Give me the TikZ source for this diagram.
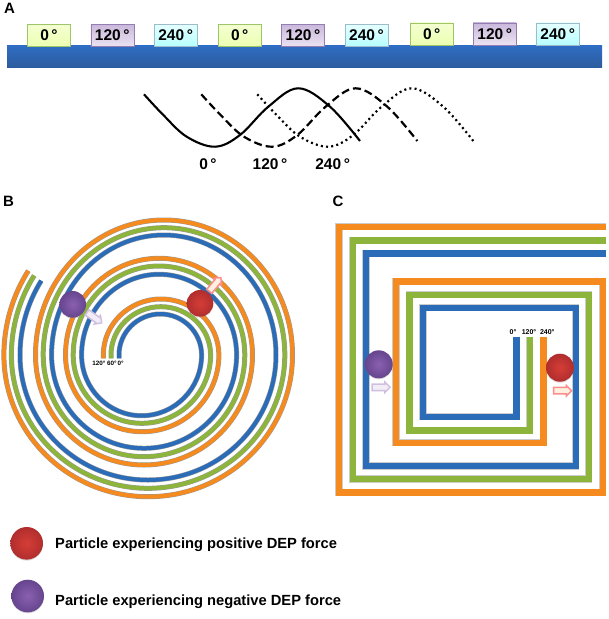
\documentclass[tikz,border=0pt]{standalone}
\usepackage{fontspec}
\setmainfont{Liberation Sans}
\usetikzlibrary{shapes.arrows,shadows}

\definecolor{trackorange}{HTML}{F58A1F}
\definecolor{trackgreen}{HTML}{8DB53C}
\definecolor{trackblue}{HTML}{2B6CB8}
\definecolor{stripblue}{HTML}{2F6DC4}
\definecolor{stripdark}{HTML}{2C5C9E}
\definecolor{redin}{HTML}{D63D36}
\definecolor{redout}{HTML}{B02E2E}
\definecolor{purplein}{HTML}{8A60B0}
\definecolor{purpleout}{HTML}{66458E}

\tikzset{
    greenbox/.style={draw=green!25!olive!60!white,top color=lime!18!white,bottom color=lime!30!white,fill=lime!25!white},
    purplebox/.style={draw=purpleout!70!white,top color=purplein!45!white,bottom color=purplein!18!white},
    cyanbox/.style={draw=cyan!35!gray!70!white,top color=cyan!10!white,bottom color=cyan!28!white},
    phasebox/.style={minimum width=43pt,minimum height=22pt,inner sep=0pt,font=\fontsize{15.5}{15.5}\bfseries\selectfont},
    wavea/.style={line width=2.1pt},
    waveb/.style={line width=2.2pt,dash pattern=on 8pt off 4pt},
    wavec/.style={line width=2.2pt,dash pattern=on 2pt off 3.2pt},
    spiral/.style={draw=gray!80,line width=.5pt,double distance=4pt,double=#1},
    strip/.style={line width=6.4pt,draw=#1,preaction={draw=gray!40,line width=7.4pt}},
    particlered/.style={circle,minimum size=26.6pt,inner sep=0pt,shading=radial,inner color=redin,outer color=redout,
        drop shadow={shadow xshift=0pt,shadow yshift=-1pt,opacity=.3}},
    particlepurple/.style={circle,minimum size=26.6pt,inner sep=0pt,shading=radial,inner color=purplein,outer color=purpleout,
        drop shadow={shadow xshift=0pt,shadow yshift=-1pt,opacity=.3}},
    forcered/.style={single arrow,minimum height=18pt,text height=5pt,text depth=0pt,single arrow head extend=2pt,inner sep=0pt,line width=1.5pt,draw=red!45!white,fill=orange!12!white},
    forcepurple/.style={single arrow,minimum height=18pt,text height=5pt,text depth=0pt,single arrow head extend=2pt,inner sep=0pt,line width=1.5pt,draw=purplein!40!white,fill=purplein!12!white},
    panel/.style={font=\fontsize{15}{15}\bfseries\selectfont},
    phase/.style={font=\fontsize{15.5}{15.5}\bfseries\selectfont},
    tiny/.style={inner sep=0pt,font=\fontsize{#1}{#1}\bfseries\selectfont},
    legend/.style={anchor=west,inner sep=0pt,font=\fontsize{14.7}{16}\bfseries\selectfont}
}

\begin{document}
\begin{tikzpicture}[x=1pt,y=-1pt]
    \useasboundingbox (0,0) rectangle (609,619);

    % Panel letters.
    \node[panel] (labelA) at (9.5,8.7) {A};
    \node[panel] (labelB) at (8.5,201) {B};
    \node[panel] (labelC) at (338,201) {C};

    % Electrode strip and phase boxes.
    \fill[top color=stripblue,bottom color=stripdark,drop shadow={shadow xshift=0pt,shadow yshift=-.8pt,opacity=.3}] (7,45.3) rectangle (602,67.3);
    \foreach \boxname/\x/\y/\sty/\ang in {boxa/49/35.2/greenbox/0,boxb/112.3/35.2/purplebox/120,boxc/175.7/35.2/cyanbox/240,
        boxd/239.7/35.2/greenbox/0,boxe/303/35.2/purplebox/120,boxf/366.5/35.2/cyanbox/240,
        boxg/431.7/33.8/greenbox/0,boxh/494.7/33.8/purplebox/120,boxi/557.8/33.8/cyanbox/240}
        \node[phasebox,\sty] (\boxname) at (\x,\y) {\ang\,°};

    % Three phase waves.
    \foreach \sty/\dx in {wavea/0,waveb/57.3,wavec/113.3}
        \draw[\sty,xshift=\dx pt] plot[smooth,tension=.6] coordinates {(144,94.3) (163.3,115) (186.7,136.7) (215,146.7) (240,135) (268.3,106.7) (298.3,88.3) (330,106.7) (360,141)};
    \node[phase] (wave0) at (208,164.3) {0\,°};
    \node[phase] (wave120) at (270,164.3) {120\,°};
    \node[phase] (wave240) at (332.7,164.3) {240\,°};

    % Spiral electrodes.
    \draw[spiral=trackorange] (103.3,358.3) -- (103.3,355)
        arc[start angle=180,end angle=0,x radius=57.8pt,y radius=56pt]
        arc[start angle=0,end angle=-180,x radius=76.7pt,y radius=76.7pt]
        arc[start angle=180,end angle=0,x radius=93.5pt,y radius=96.7pt]
        arc[start angle=0,end angle=-180,x radius=108.5pt,y radius=110pt]
        arc[start angle=180,end angle=0,x radius=128.5pt,y radius=135pt]
        arc[start angle=0,end angle=-180,x radius=144.3pt,y radius=141.7pt]
        arc[start angle=180,end angle=147.7,x radius=157.7pt,y radius=157.7pt];
    \draw[spiral=trackgreen] (111,358.3) -- (111,355)
        arc[start angle=180,end angle=0,x radius=49.8pt,y radius=48.3pt]
        arc[start angle=0,end angle=-180,x radius=68.7pt,y radius=68.3pt]
        arc[start angle=180,end angle=0,x radius=85.8pt,y radius=89pt]
        arc[start angle=0,end angle=-180,x radius=100.8pt,y radius=101.7pt]
        arc[start angle=180,end angle=0,x radius=120.8pt,y radius=127.3pt]
        arc[start angle=0,end angle=-180,x radius=136.7pt,y radius=133.3pt]
        arc[start angle=180,end angle=148,x radius=150pt,y radius=150pt];
    \draw[spiral=trackblue] (119,358.3) -- (119,355)
        arc[start angle=180,end angle=0,x radius=41.3pt,y radius=41pt]
        arc[start angle=0,end angle=-180,x radius=60pt,y radius=60.7pt]
        arc[start angle=180,end angle=0,x radius=77.5pt,y radius=80.7pt]
        arc[start angle=0,end angle=-180,x radius=92.5pt,y radius=93.3pt]
        arc[start angle=180,end angle=0,x radius=112.2pt,y radius=120pt]
        arc[start angle=0,end angle=-180,x radius=128pt,y radius=125pt]
        arc[start angle=180,end angle=148.2,x radius=141.7pt,y radius=141pt];
    \node[tiny=6.3] (spiral120) at (99,363.7) {120°};
    \node[tiny=6.3] (spiral60) at (112,363.7) {60°};
    \node[tiny=6.3] (spiral0) at (120.7,363.7) {0°};

    % Square spiral electrodes.
    \draw[strip=trackorange] (543.3,336.7) |- (396,442.7) |- (602.7,281.3) |- (339,492.3) |- (606,226.7);
    \draw[strip=trackgreen] (529.7,336.7) |- (409.3,430.3) |- (588.7,294.7) |- (352.7,479) |- (606,240.3);
    \draw[strip=trackblue] (516.3,336.7) |- (423,416.7) |- (575.7,307.7) |- (366,466) |- (606,253.3);
    \node[tiny=7] (square0) at (513,331.7) {0°};
    \node[tiny=7] (square120) at (529,331.7) {120°};
    \node[tiny=7] (square240) at (547.3,331.7) {240°};

    % Particles on the spiral.
    \node[forcepurple,rotate=-35] (forceB1) at (93,316.7) {};
    \node[particlepurple] (partB1) at (72.7,304.3) {};
    \node[forcered,rotate=50] (forceB2) at (214,285.7) {};
    \node[particlered] (partB2) at (200,303.3) {};

    % Particles on the square spiral.
    \node[particlepurple,minimum size=28pt] (partC1) at (378.7,364.3) {};
    \node[forcepurple] (forceC1) at (379.5,387.3) {};
    \node[particlered,minimum size=28pt] (partC2) at (560,367.7) {};
    \node[forcered] (forceC2) at (561,390.7) {};

    % Legend.
    \node[particlered,minimum size=32.6pt] (keyred) at (26.7,543.3) {};
    \node[particlepurple,minimum size=32.6pt] (keypurple) at (27.7,596) {};
    \node[legend] (textred) at (55,545) {Particle experiencing positive DEP force};
    \node[legend] (textpurple) at (55,601.7) {Particle experiencing negative DEP force};
\end{tikzpicture}
\end{document}
